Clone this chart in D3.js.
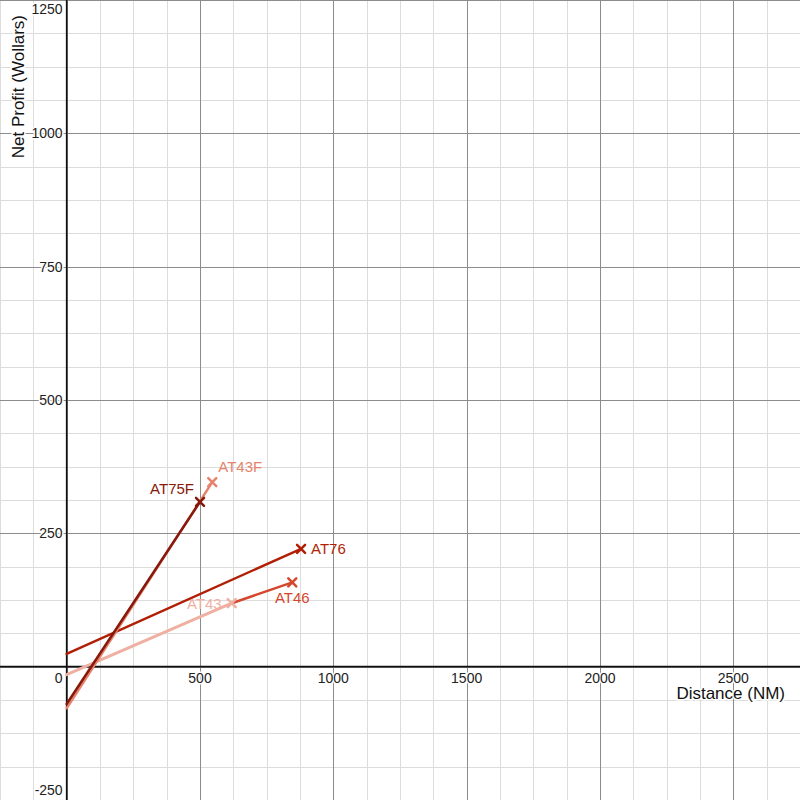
<!DOCTYPE html>
<html>
<head>
<meta charset="utf-8">
<script src="https://cdn.jsdelivr.net/npm/d3@7"></script>
<style>
  html, body { margin: 0; padding: 0; background: #fff; }
  svg { display: block; font-family: Arial, "Liberation Sans", sans-serif; }
</style>
</head>
<body>
<svg id="chart" width="800" height="800"></svg>
<script>
// ---- data ----
const series = ["AT46", "AT43", "AT76", "AT43F", "AT75F"];
const startX = [619, 0, 0, 0, 0];
const startY = [119, -15, 24, -78, -70];
const endX = [846, 619, 879, 546, 500];
const endY = [158, 119, 221, 346, 309];
const colors = ["#d5472d", "#efb0a2", "#b11f05", "#e5836c", "#86190c"];
const xTicks = [500, 1000, 1500, 2000, 2500];
const yTicks = [-250, 250, 500, 750, 1000, 1250];
const xTitle = "Distance (NM)";
const yTitle = "Net Profit (Wollars)";

// ---- layout ----
const W = 800, H = 800;
const svg = d3.select("#chart");
const x = d3.scaleLinear().domain([-250, 2750]).range([0, W]);
const y = d3.scaleLinear().domain([-250, 1250]).range([H, 0]);

// grid minor
const xMinor = d3.range(-250, 2751, 125);
const yMinor = d3.range(-250, 1251, 62.5);
const g = svg.append("g");
g.selectAll("line.xm").data(xMinor).join("line")
  .attr("x1", d => Math.round(x(d)) + 0.5).attr("x2", d => Math.round(x(d)) + 0.5)
  .attr("y1", 0).attr("y2", H).attr("stroke", "#dcdcdc").attr("stroke-width", 1);
g.selectAll("line.ym").data(yMinor).join("line")
  .attr("y1", d => Math.round(y(d)) + 0.5).attr("y2", d => Math.round(y(d)) + 0.5)
  .attr("x1", 0).attr("x2", W).attr("stroke", "#dcdcdc").attr("stroke-width", 1);
// grid major
const xMajor = d3.range(-500, 3001, 500);
const yMajor = d3.range(-250, 1251, 250);
g.selectAll("line.xM").data(xMajor).join("line")
  .attr("x1", d => Math.round(x(d)) + 0.5).attr("x2", d => Math.round(x(d)) + 0.5)
  .attr("y1", 0).attr("y2", H).attr("stroke", "#8c8c8c").attr("stroke-width", 1);
g.selectAll("line.yM").data(yMajor).join("line")
  .attr("y1", d => Math.round(y(d)) + 0.5).attr("y2", d => Math.round(y(d)) + 0.5)
  .attr("x1", 0).attr("x2", W).attr("stroke", "#8c8c8c").attr("stroke-width", 1);

// axes
svg.append("line").attr("x1", x(0)).attr("x2", x(0)).attr("y1", 0).attr("y2", H)
  .attr("stroke", "#111").attr("stroke-width", 1.6);
svg.append("line").attr("y1", y(0)).attr("y2", y(0)).attr("x1", 0).attr("x2", W)
  .attr("stroke", "#111").attr("stroke-width", 1.6);

// tick labels
const tl = svg.append("g").attr("font-size", 14).attr("fill", "#222")
  .attr("stroke", "#fff").attr("stroke-width", 3).attr("paint-order", "stroke")
  .attr("stroke-linejoin", "round");
tl.selectAll("text.xt").data(xTicks).join("text")
  .attr("x", d => x(d)).attr("y", y(0) + 16).attr("text-anchor", "middle")
  .text(d => d);
tl.append("text").attr("x", x(0) - 4).attr("y", y(0) + 16).attr("text-anchor", "end").text("0");
tl.selectAll("text.yt").data(yTicks).join("text")
  .attr("x", x(0) - 4)
  .attr("y", d => Math.min(Math.max(y(d), 9), H - 10) + 5)
  .attr("text-anchor", "end")
  .text(d => d);

// axis titles
svg.append("text").attr("x", 785).attr("y", 699).attr("text-anchor", "end")
  .attr("font-size", 17).attr("fill", "#111")
  .attr("stroke", "#fff").attr("stroke-width", 3).attr("paint-order", "stroke")
  .text(xTitle);
svg.append("text").attr("transform", "translate(24,15) rotate(-90)")
  .attr("text-anchor", "end").attr("font-size", 17).attr("fill", "#111")
  .attr("stroke", "#fff").attr("stroke-width", 3).attr("paint-order", "stroke")
  .text(yTitle);

// series lines
const data = series.map((s, i) => ({
  name: s, x0: startX[i], y0: startY[i], x1: endX[i], y1: endY[i], color: colors[i]
}));
const lineGen = d3.line().x(d => x(d[0])).y(d => y(d[1]));
const sg = svg.append("g");
data.forEach(d => {
  sg.append("path").attr("d", lineGen([[d.x0, d.y0], [d.x1, d.y1]]))
    .attr("stroke", d.color).attr("stroke-width", d.name === "AT43" ? 3 : 2.5).attr("fill", "none")
    .attr("stroke-linecap", "round");
});
// markers
data.forEach(d => {
  const cx = x(d.x1), cy = y(d.y1), r = 4;
  sg.append("path")
    .attr("d", `M${cx - r},${cy - r}L${cx + r},${cy + r}M${cx - r},${cy + r}L${cx + r},${cy - r}`)
    .attr("stroke", d.color).attr("stroke-width", 2.5).attr("stroke-linecap", "round");
});

// labels
const labelPos = {
  "AT75F": { dx: -6, dy: -8, anchor: "end" },
  "AT43F": { dx: 6, dy: -10, anchor: "start" },
  "AT76": { dx: 10, dy: 5, anchor: "start" },
  "AT46": { dx: 0, dy: 21, anchor: "middle" },
  "AT43": { dx: -10, dy: 6, anchor: "end" }
};
data.forEach(d => {
  const p = labelPos[d.name];
  svg.append("text").attr("x", x(d.x1) + p.dx).attr("y", y(d.y1) + p.dy)
    .attr("text-anchor", p.anchor).attr("font-size", 15).attr("fill", d.color)
    .text(d.name);
});
</script>
</body>
</html>
